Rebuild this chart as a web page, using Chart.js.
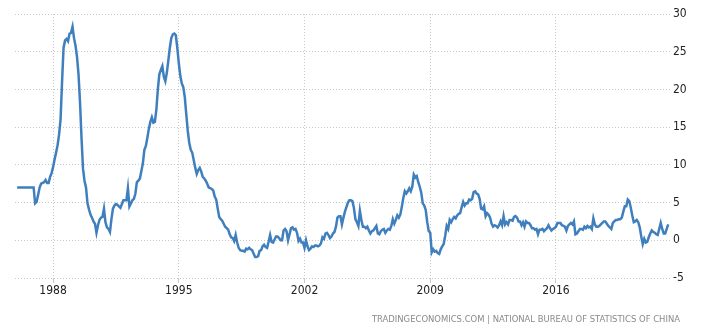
<!DOCTYPE html>
<html>
<head>
<meta charset="utf-8">
<script src="https://cdn.jsdelivr.net/npm/chart.js@4"></script>
<style>
  html, body { margin: 0; padding: 0; background: #fff; }
  #wrap { width: 723px; height: 330px; }
</style>
</head>
<body>
<div id="wrap"><canvas id="chart" width="723" height="330"></canvas></div>
<script>
// China inflation rate, monthly, year on year (%)
const startYear = 1986;
const cpi1986to1995 = [
  7.0, 7.0, 7.0, 7.0, 7.0, 7.0, 7.0, 7.0, 7.0, 7.0, 7.0, 7.0,
  4.9, 5.1, 6.0, 7.0, 7.5, 7.6, 7.7, 8.0, 7.6, 7.6, 8.4, 8.9,
  9.7, 10.7, 11.6, 12.6, 14.0, 16.0, 21.0, 25.5, 26.5, 26.7, 26.4, 27.4,
  27.5, 28.3, 26.8, 25.8, 24.3, 22.0, 18.3, 13.6, 9.5, 7.9, 7.0, 4.9,
  4.1, 3.4, 3.0, 2.5, 2.2, 1.0, 2.0, 2.7, 3.0, 3.1, 4.2, 2.4,
  1.7, 1.5, 1.1, 2.8, 4.2, 4.6, 4.8, 4.7, 4.5, 4.3, 4.8, 5.3,
  5.3, 5.3, 6.9, 4.5, 4.9, 5.3, 5.5, 6.2, 7.7, 7.9, 8.2, 9.2,
  10.2, 12.0, 12.5, 13.6, 14.8, 15.7, 16.3, 15.6, 15.7, 17.3, 20.0, 22.0,
  22.6, 23.1, 21.7, 21.1, 22.2, 23.8, 25.5, 26.8, 27.3, 27.4, 27.2, 25.5,
  23.5, 21.8, 20.8, 20.3, 19.0, 16.7, 14.5, 12.9, 12.0, 11.6, 10.6, 9.6
];
const cpi1996to2005 = [
  8.8, 9.3, 9.6, 9.1, 8.4, 8.2, 7.9, 7.5, 7.0, 6.9, 6.8, 6.6,
  5.8, 5.4, 4.2, 3.1, 2.8, 2.6, 2.2, 1.8, 1.6, 1.4, 0.8, 0.4,
  0.3, -0.1, 0.7, -0.3, -1.0, -1.3, -1.4, -1.4, -1.5, -1.1, -1.2, -1.0,
  -1.2, -1.3, -1.8, -2.2, -2.2, -2.1, -1.4, -1.3, -0.8, -0.6, -0.9, -1.0,
  -0.2, 0.7, -0.2, -0.3, 0.1, 0.5, 0.5, 0.3, 0.0, 0.0, 1.3, 1.5,
  1.2, 0.0, 0.8, 1.6, 1.7, 1.4, 1.5, 1.0, -0.1, 0.2, -0.3, -0.3,
  -1.0, 0.0, -0.8, -1.3, -1.1, -0.8, -0.9, -0.7, -0.7, -0.8, -0.7, -0.4,
  0.4, 0.2, 0.9, 1.0, 0.7, 0.3, 0.5, 0.9, 1.1, 1.8, 3.0, 3.2,
  3.2, 2.1, 3.0, 3.8, 4.4, 5.0, 5.3, 5.3, 5.2, 4.3, 2.8, 2.4,
  1.9, 3.9, 2.7, 1.8, 1.8, 1.6, 1.8, 1.3, 0.9, 1.2, 1.3, 1.6
];
const cpi2006to2015 = [
  1.9, 0.9, 0.8, 1.2, 1.4, 1.5, 1.0, 1.3, 1.5, 1.4, 1.9, 2.8,
  2.2, 2.7, 3.3, 3.0, 3.4, 4.4, 5.6, 6.5, 6.2, 6.5, 6.9, 6.5,
  7.1, 8.7, 8.3, 8.5, 7.7, 7.1, 6.3, 4.9, 4.6, 4.0, 2.4, 1.2,
  1.0, -1.6, -1.2, -1.5, -1.4, -1.7, -1.8, -1.2, -0.8, -0.5, 0.6, 1.9,
  1.5, 2.7, 2.4, 2.8, 3.1, 2.9, 3.3, 3.5, 3.6, 4.4, 5.1, 4.6,
  4.9, 4.9, 5.4, 5.3, 5.5, 6.4, 6.5, 6.2, 6.1, 5.5, 4.2, 4.1,
  4.5, 3.2, 3.6, 3.4, 3.0, 2.2, 1.8, 2.0, 1.9, 1.7, 2.0, 2.5,
  2.0, 3.2, 2.1, 2.4, 2.1, 2.7, 2.7, 2.6, 3.1, 3.2, 3.0, 2.5,
  2.5, 2.0, 2.4, 1.8, 2.5, 2.3, 2.3, 2.0, 1.6, 1.6, 1.4, 1.5,
  0.8, 1.4, 1.4, 1.5, 1.2, 1.4, 1.6, 2.0, 1.6, 1.3, 1.5, 1.6
];
const cpi2016to2022 = [
  1.8, 2.3, 2.3, 2.3, 2.0, 1.9, 1.8, 1.3, 1.9, 2.1, 2.3, 2.1,
  2.5, 0.8, 0.9, 1.2, 1.5, 1.5, 1.4, 1.8, 1.6, 1.9, 1.7, 1.8,
  1.5, 2.9, 2.1, 1.8, 1.8, 1.9, 2.1, 2.3, 2.5, 2.5, 2.2, 1.9,
  1.7, 1.5, 2.3, 2.5, 2.7, 2.7, 2.8, 2.8, 3.0, 3.8, 4.5, 4.5,
  5.4, 5.2, 4.3, 3.3, 2.4, 2.5, 2.7, 2.4, 1.7, 0.5, -0.5, 0.2,
  -0.3, -0.2, 0.4, 0.9, 1.3, 1.1, 1.0, 0.8, 0.7, 1.5, 2.3, 1.5,
  0.9, 0.9, 1.5, 2.1
];
const yearTicks = [1988, 1995, 2002, 2009, 2016];
const sourceText = 'TRADINGECONOMICS.COM | NATIONAL BUREAU OF STATISTICS OF CHINA';

const allValues = cpi1986to1995.concat(cpi1996to2005, cpi2006to2015, cpi2016to2022);
// one point per month, x in decimal years
const points = allValues.map((v, i) => ({ x: startYear + i / 12, y: v }));

const narrowFont = "'Liberation Sans Narrow', 'DejaVu Sans Condensed', Arial, sans-serif";
const tickFont = { family: narrowFont, size: 12 };

// source line in the bottom right corner
const sourcePlugin = {
  id: 'source',
  afterDraw(chart) {
    const c = chart.ctx;
    c.save();
    c.font = '9.4px ' + narrowFont;
    c.fillStyle = '#8a8a8a';
    c.textAlign = 'right';
    c.textBaseline = 'middle';
    c.fillText(sourceText, 680, 320);
    c.restore();
  }
};

const ctx = document.getElementById('chart').getContext('2d');
const chart = new Chart(ctx, {
  type: 'line',
  data: {
    datasets: [{
      label: 'China Inflation Rate',
      data: points,
      borderColor: '#3f7fbd',
      borderWidth: 2.5,
      pointRadius: 0,
      tension: 0,
      fill: false
    }]
  },
  options: {
    responsive: false,
    animation: false,
    devicePixelRatio: 1,
    layout: { padding: { left: 15, top: 14, right: 31, bottom: 30 } },
    plugins: {
      legend: { display: false },
      tooltip: { enabled: false },
      title: { display: false }
    },
    scales: {
      x: {
        type: 'linear',
        min: 1985.88,
        max: 2022.35,
        afterBuildTicks: (scale) => { scale.ticks = yearTicks.map(v => ({ value: v })); },
        afterFit: (scale) => { scale.height = 22; },
        grid: { color: '#c8c8c8', lineWidth: 1, drawTicks: true, tickLength: 5 },
        border: { display: false, dash: [1, 2] },
        ticks: {
          color: '#222',
          font: tickFont,
          padding: 1,
          maxRotation: 0,
          autoSkip: false,
          callback: (v) => String(v)
        }
      },
      y: {
        position: 'right',
        min: -5,
        max: 30,
        afterFit: (scale) => { scale.width = 22; },
        grid: { color: '#c8c8c8', lineWidth: 1, drawTicks: false },
        border: { display: false, dash: [1, 2] },
        ticks: {
          stepSize: 5,
          color: '#222',
          font: tickFont,
          padding: 3
        }
      }
    }
  },
  plugins: [sourcePlugin]
});
</script>
</body>
</html>
